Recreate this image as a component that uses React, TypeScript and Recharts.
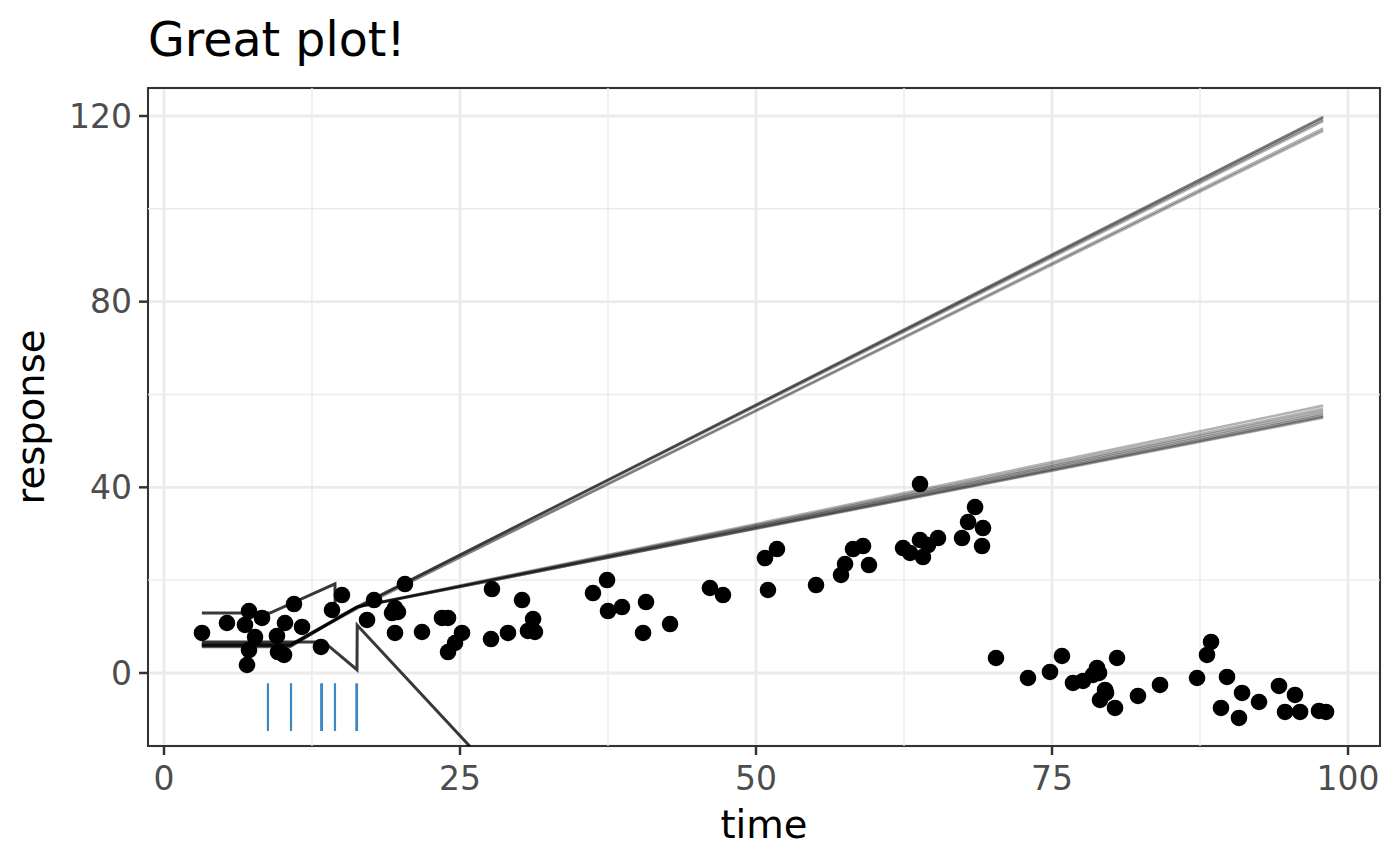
import React from 'react';
import { ComposedChart, XAxis, YAxis, CartesianGrid, Line, Scatter, ReferenceArea } from 'recharts';

// ---- observed data ----
const time = [
  3.21, 5.32, 6.84, 7.18, 8.28, 7.69, 7.18, 7.01, 9.54, 10.22,
  10.98, 11.66, 9.63, 10.14, 13.26, 14.19, 15.03, 17.15, 17.74, 19.26,
  19.51, 19.76, 20.35, 19.51, 21.79, 23.48, 23.99, 25.17, 24.58, 23.99,
  27.7, 27.62, 29.05, 30.24, 31.17, 30.74, 31.33, 36.23, 37.42, 37.5,
  38.68, 40.71, 40.46, 42.74, 46.11, 47.21, 50.76, 51.77, 51.01, 55.07,
  57.18, 57.52, 58.19, 59.04, 59.54, 62.42, 63.01, 63.85, 64.1, 64.53,
  65.37, 63.85, 67.4, 67.91, 68.5, 69.17, 69.09, 70.27, 72.97, 74.83,
  75.84, 76.77, 77.62, 78.46, 78.8, 78.97, 79.48, 79.56, 79.05, 80.32,
  80.49, 82.26, 84.12, 87.25, 88.09, 88.43, 89.78, 89.27, 91.05, 90.79,
  92.48, 94.17, 95.52, 94.68, 95.95, 97.55, 98.14,
];
const response = [
  8.62, 10.77, 10.34, 13.35, 11.85, 7.75, 4.95, 1.72, 7.97, 10.77,
  14.86, 9.91, 4.52, 3.88, 5.6, 13.57, 16.8, 11.42, 15.72, 12.92,
  14.0, 13.14, 19.17, 8.62, 8.83, 11.85, 11.85, 8.62, 6.46, 4.52,
  18.09, 7.32, 8.62, 15.72, 11.63, 9.05, 8.83, 17.23, 20.03, 13.35,
  14.21, 15.29, 8.62, 10.55, 18.31, 16.8, 24.77, 26.71, 17.88, 18.95,
  21.11, 23.48, 26.71, 27.35, 23.26, 26.92, 25.85, 28.65, 24.98, 27.57,
  29.08, 40.71, 29.08, 32.52, 35.75, 31.23, 27.35, 3.23, -1.08, 0.22,
  3.66, -2.15, -1.72, -0.43, 1.08, 0.0, -3.66, -4.31, -5.82, -7.54,
  3.23, -4.95, -2.58, -1.08, 3.88, 6.68, -0.86, -7.54, -4.31, -9.69,
  -6.25, -2.8, -4.74, -8.4, -8.4, -8.18, -8.4,
];

// ---- axes ----
const xTicks = [0, 25, 50, 75, 100];
const yTicks = [0, 40, 80, 120];
const xMinorTicks = [12.5, 37.5, 62.5, 87.5];
const yMinorTicks = [20, 60, 100];
const X_DOMAIN: [number, number] = [-1.35, 102.7];
const Y_DOMAIN: [number, number] = [-15.73, 126.03];

// ---- posterior draws of the fitted segments ([time, response]) ----
const drawUpper = [[3.2, 12.9], [8.95, 12.9], [14.44, 19.2], [14.46, 11.9]];
const drawLower = [[3.2, 6.7], [13.5, 6.7], [16.3, 0.7], [16.32, 10.3], [27, -19]];
const steepDraws = [
  [[14.46, 11.9], [16.3, 14.2], [97.9, 119.7]],
  [[3.2, 5.6], [10.64, 5.6], [16.3, 14.2], [97.9, 119.8]],
  [[3.2, 6.0], [10.7, 6.0], [16.3, 14.3], [97.9, 119.3]],
  [[3.2, 5.8], [10.6, 5.8], [16.2, 14.1], [97.9, 118.9]],
  [[3.2, 6.2], [10.8, 6.2], [16.4, 14.0], [97.9, 117.3]],
  [[3.2, 6.1], [10.7, 6.1], [16.4, 14.1], [97.9, 116.8]],
];
const shallowDraws = [
  [[3.2, 5.6], [10.64, 5.6], [16.3, 14.2], [97.9, 55.0]],
  [[3.2, 5.9], [10.7, 5.9], [16.3, 14.2], [97.9, 55.2]],
  [[3.2, 6.0], [10.6, 6.0], [16.2, 14.1], [97.9, 55.5]],
  [[3.2, 5.7], [10.7, 5.7], [16.3, 14.3], [97.9, 55.9]],
  [[3.2, 6.3], [10.8, 6.3], [16.4, 14.2], [97.9, 56.4]],
  [[3.2, 6.0], [10.7, 6.0], [16.3, 14.2], [97.9, 56.9]],
  [[3.2, 6.1], [10.7, 6.1], [16.3, 14.2], [97.9, 57.6]],
];

// ---- changepoint rug ----
const rugTime = [8.78, 10.73, 13.28, 13.34, 14.44, 16.25, 16.3];
const rugRange = [-2.2, -12.5];

const toPts = (arr: number[][]) => arr.map(([x, y]) => ({ x, y }));
const pointData = time.map((t, i) => ({ x: t, y: response[i] }));
const minorGrid = [
  ...xMinorTicks.flatMap((v) => [{ x: v, y: Y_DOMAIN[0] }, { x: v, y: Y_DOMAIN[1] }, { x: v, y: null }]),
  ...yMinorTicks.flatMap((v) => [{ x: X_DOMAIN[0], y: v }, { x: X_DOMAIN[1], y: v }, { x: X_DOMAIN[1], y: null }]),
];
const rugData = rugTime.flatMap((t) => [{ x: t, y: rugRange[0] }, { x: t, y: rugRange[1] }, { x: t, y: null }]);

const FONT = 'DejaVu Sans';

const Dot = (props: any) => {
  const { cx, cy } = props;
  if (cx == null || cy == null) return null;
  return <circle cx={cx} cy={cy} r={8.3} fill="#000" />;
};

export default function App() {
  return (
    <div style={{ position: 'absolute', left: 0, top: 0, width: 1400, height: 866, background: '#fff' }}>
      <ComposedChart width={1400} height={866} margin={{ top: 88, right: 20, left: 0, bottom: 0 }}>
        <CartesianGrid stroke="#EBEBEB" strokeWidth={2.8} />
        <XAxis
          type="number"
          dataKey="x"
          domain={X_DOMAIN}
          ticks={xTicks}
          interval={0}
          allowDataOverflow
          height={120}
          axisLine={false}
          tickLine={{ stroke: '#333333', strokeWidth: 2.5 }}
          tickSize={9}
          tickMargin={12}
          tick={{ fill: '#4D4D4D', fontSize: 33, fontFamily: FONT }}
        />
        <YAxis
          type="number"
          dataKey="y"
          domain={Y_DOMAIN}
          ticks={yTicks}
          interval={0}
          allowDataOverflow
          width={148}
          axisLine={false}
          tickLine={{ stroke: '#333333', strokeWidth: 2.5 }}
          tickSize={9}
          tickMargin={7}
          tick={{ fill: '#4D4D4D', fontSize: 33, fontFamily: FONT }}
        />
        <Line data={minorGrid} dataKey="y" stroke="#EBEBEB" strokeWidth={1.4} dot={false} activeDot={false} isAnimationActive={false} />
        <Line data={toPts(drawUpper)} dataKey="y" stroke="#000" strokeOpacity={0.78} strokeWidth={3} dot={false} activeDot={false} isAnimationActive={false} />
        <Line data={toPts(drawLower)} dataKey="y" stroke="#000" strokeOpacity={0.78} strokeWidth={3} dot={false} activeDot={false} isAnimationActive={false} />
        {steepDraws.map((d, i) => (
          <Line key={'s' + i} data={toPts(d)} dataKey="y" stroke="#000" strokeOpacity={0.3} strokeWidth={2.6} dot={false} activeDot={false} isAnimationActive={false} />
        ))}
        {shallowDraws.map((d, i) => (
          <Line key={'h' + i} data={toPts(d)} dataKey="y" stroke="#000" strokeOpacity={0.3} strokeWidth={2.6} dot={false} activeDot={false} isAnimationActive={false} />
        ))}
        <Scatter data={pointData} shape={Dot} isAnimationActive={false} />
        <Line data={rugData} dataKey="y" stroke="#2A7BC0" strokeOpacity={0.9} strokeWidth={2.2} dot={false} activeDot={false} isAnimationActive={false} />
        <ReferenceArea x1={X_DOMAIN[0]} x2={X_DOMAIN[1]} y1={Y_DOMAIN[0]} y2={Y_DOMAIN[1]} fill="none" fillOpacity={0} stroke="#333333" strokeWidth={2} ifOverflow="visible" />
      </ComposedChart>
      <svg width={1400} height={866} style={{ position: 'absolute', left: 0, top: 0, pointerEvents: 'none' }}>
        <text x={148} y={56} fontSize={47.5} fontFamily={FONT} fill="#000">Great plot!</text>
        <text x={764} y={838} fontSize={38.5} fontFamily={FONT} fill="#000" textAnchor="middle">time</text>
        <text x={44} y={417} fontSize={38.5} fontFamily={FONT} fill="#000" textAnchor="middle" transform="rotate(-90 44 417)">response</text>
      </svg>
    </div>
  );
}
